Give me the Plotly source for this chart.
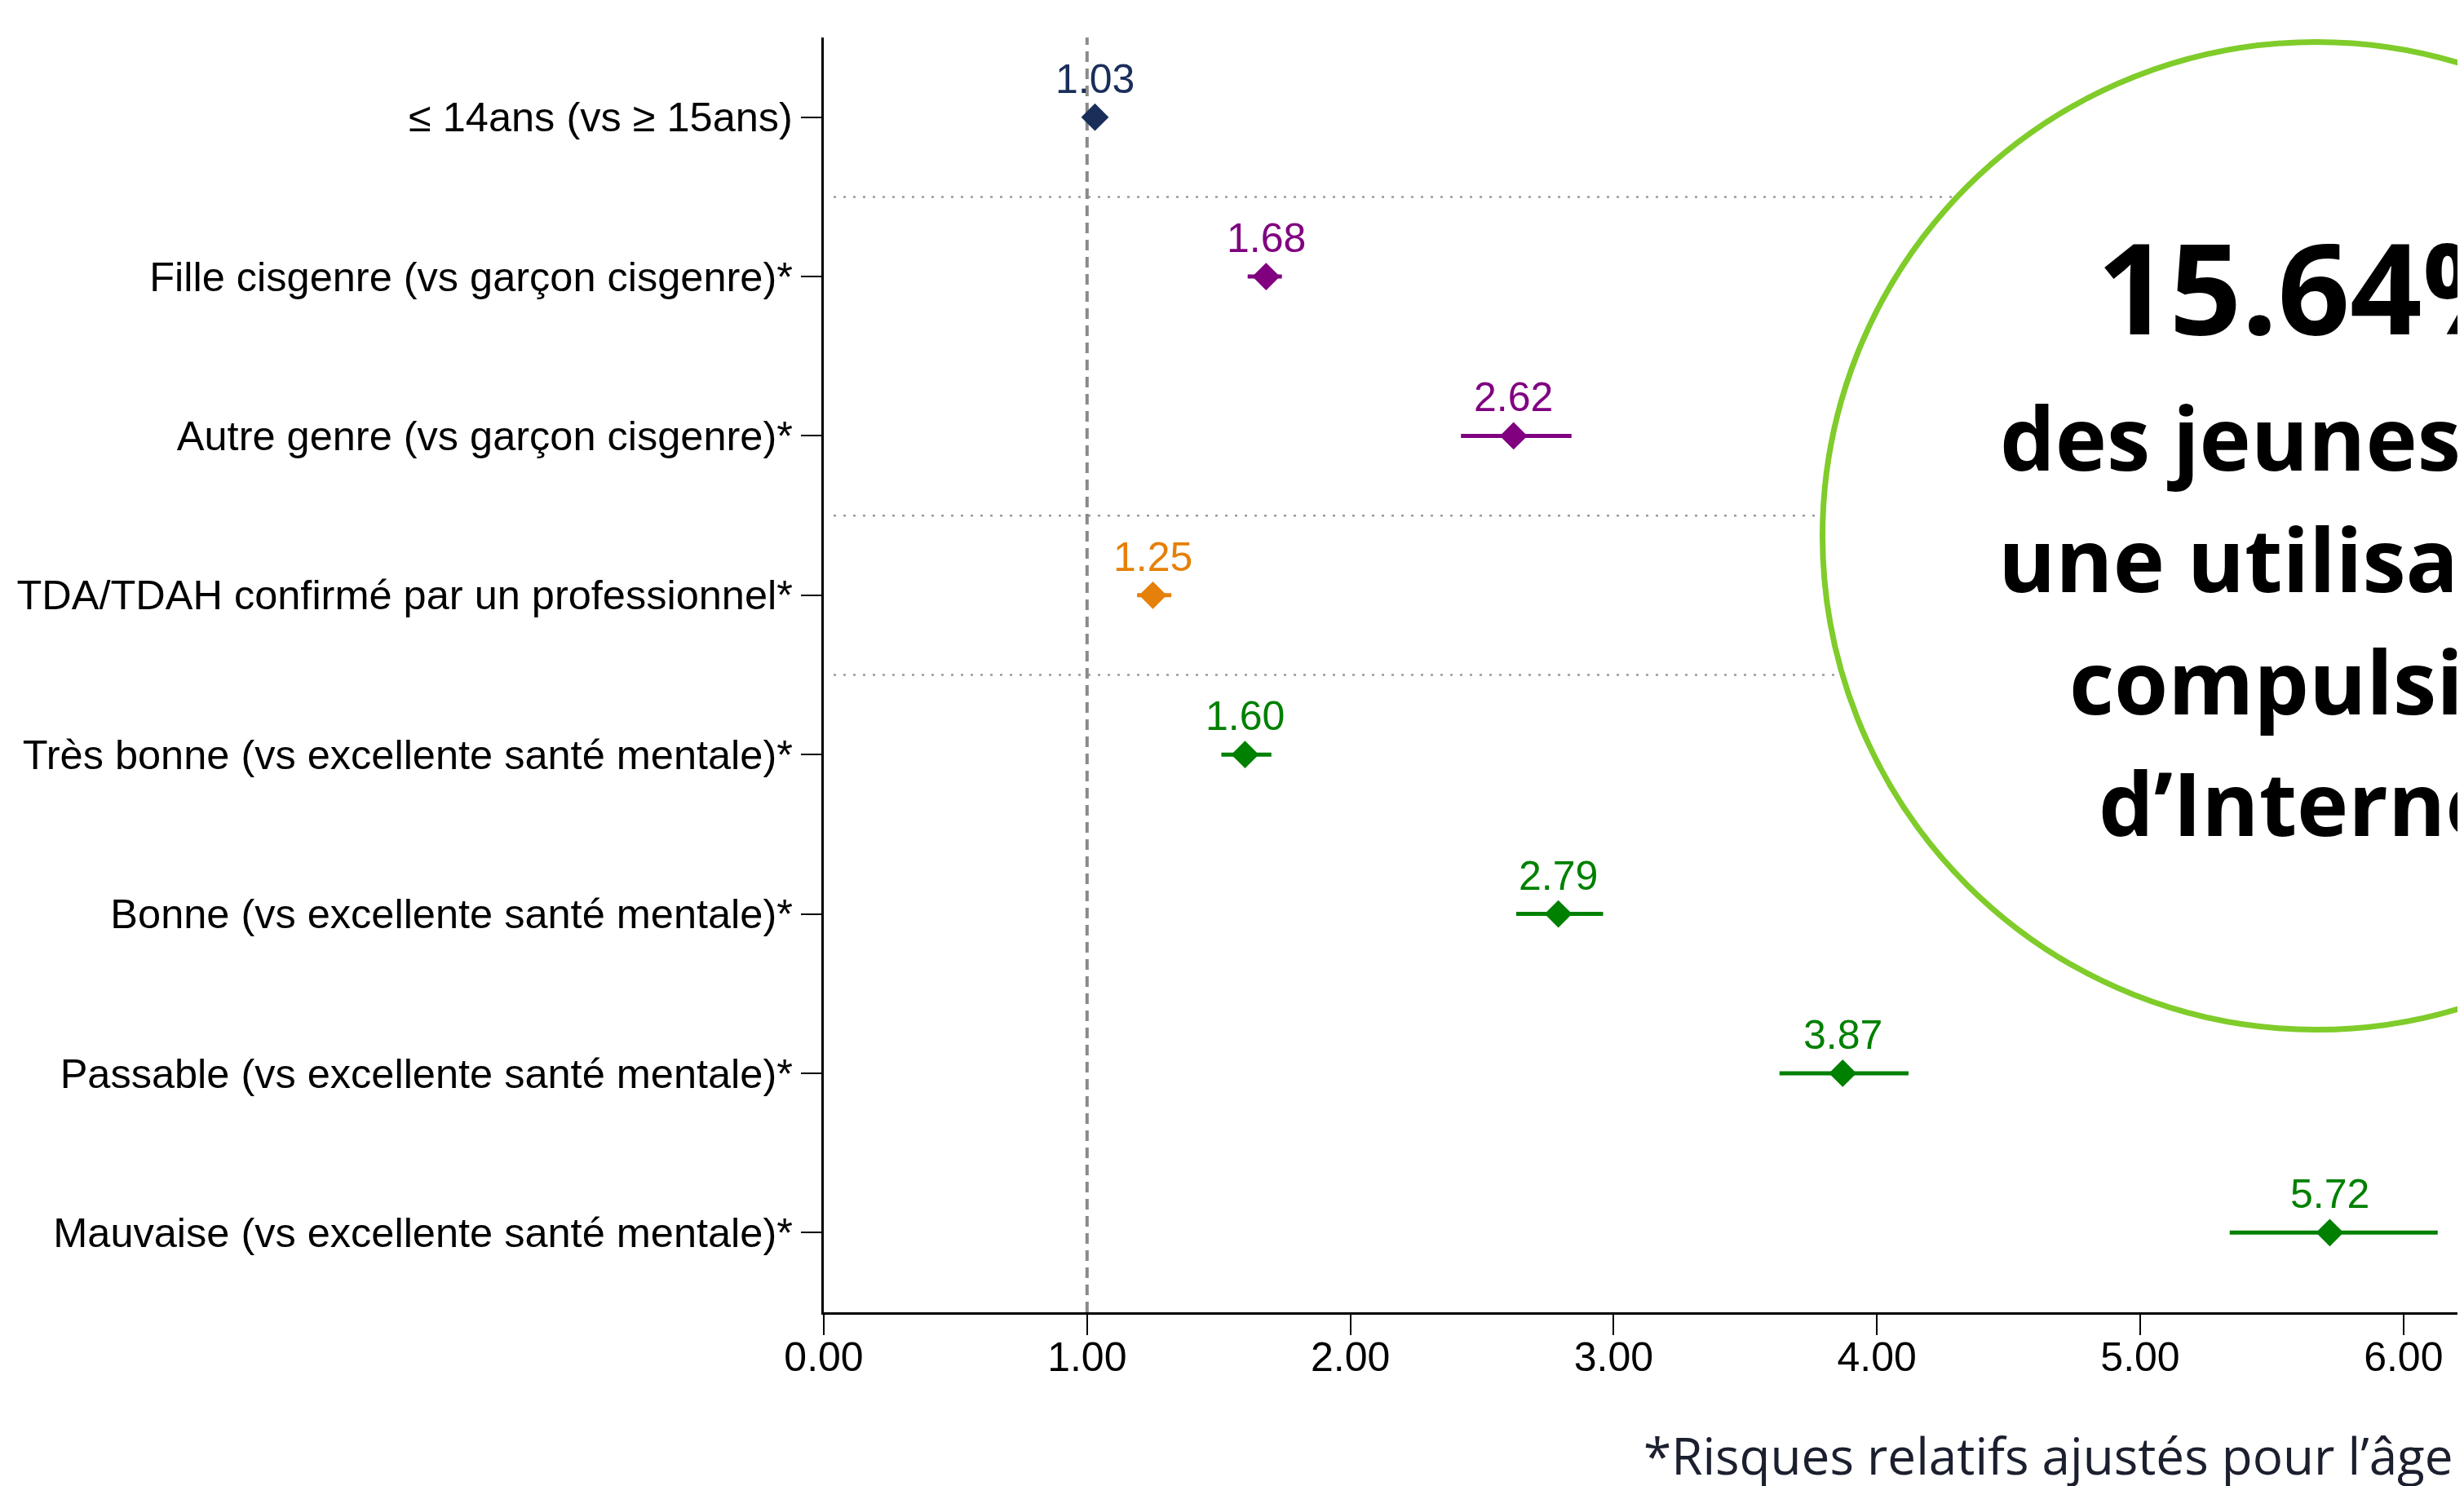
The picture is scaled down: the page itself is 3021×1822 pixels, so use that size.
import plotly.graph_objects as go

# ---------------- data ----------------
labels = [
    "≤ 14ans (vs ≥ 15ans)",
    "Fille cisgenre (vs garçon cisgenre)*",
    "Autre genre (vs garçon cisgenre)*",
    "TDA/TDAH confirmé par un professionnel*",
    "Très bonne (vs excellente santé mentale)*",
    "Bonne (vs excellente santé mentale)*",
    "Passable (vs excellente santé mentale)*",
    "Mauvaise (vs excellente santé mentale)*",
]
rr = [1.03, 1.68, 2.62, 1.25, 1.60, 2.79, 3.87, 5.72]
ci_low = [1.00, 1.61, 2.42, 1.19, 1.51, 2.63, 3.63, 5.34]
ci_high = [1.06, 1.74, 2.84, 1.32, 1.70, 2.96, 4.12, 6.13]
colors = ["#1a2e5a", "#800080", "#800080", "#e5800a",
          "#008000", "#008000", "#008000", "#008000"]
x_ticks = [0, 1, 2, 3, 4, 5, 6]
x_ticktext = ["0.00", "1.00", "2.00", "3.00", "4.00", "5.00", "6.00"]
separators = [1.5, 3.5, 4.5]
ref_value = 1.0

callout_big = "15.64%"
callout_lines = ["des jeunes ont", "une utilisation", "compulsive", "d’Internet"]
footnote = "*Risques relatifs ajustés pour l’âge"

# ---------------- layout geometry ----------------
W, H = 3021, 1822
OFF = 8  # page body margin
ML, MR, MT = 1010 - OFF, 0, 46 - OFF
MB = H - (1609 - OFF)
PW, PH = W - ML - MR, H - MT - MB
PX_PER_UNIT = 322.8
x_max = PW / PX_PER_UNIT


def px(xs):
    """screen x -> paper x"""
    return (xs - OFF - ML) / PW


def py(ys):
    """screen y -> paper y"""
    return (H - MB - (ys - OFF)) / PH


FONT = "Liberation Sans, Arial, Helvetica, sans-serif"
OPEN = "Open Sans, Noto Sans, sans-serif"

fig = go.Figure()
rows = list(range(1, len(labels) + 1))
for i, (lab, v, lo, hi, c) in enumerate(zip(labels, rr, ci_low, ci_high, colors)):
    fig.add_trace(go.Scatter(
        x=[v], y=[rows[i]], mode="markers",
        marker=dict(symbol="diamond", size=26, color=c, line=dict(width=0)),
        error_x=dict(type="data", symmetric=False, array=[hi - v],
                     arrayminus=[v - lo], color=c, thickness=5, width=0),
        showlegend=False, hoverinfo="skip",
    ))
    fig.add_annotation(
        x=v, y=rows[i], xref="x", yref="y", text=f"{v:.2f}",
        showarrow=False, yanchor="bottom", yshift=17,
        font=dict(family=FONT, size=50, color=c),
    )

shapes = []
for s in separators:
    shapes.append(dict(type="line", xref="paper", yref="y",
                       x0=px(1022), x1=1, y0=s, y1=s, layer="below",
                       line=dict(color="#9a9a9a", width=2.5, dash="3px,9px")))
shapes.append(dict(type="line", xref="x", yref="paper",
                   x0=ref_value, x1=ref_value, y0=0, y1=1, layer="below",
                   line=dict(color="#8a8a8a", width=4, dash="13px,8px")))
# callout circle
cx, cy, r = 2840, 657, 605.5
shapes.append(dict(type="circle", xref="paper", yref="paper",
                   x0=px(cx - r), x1=px(cx + r), y0=py(cy + r), y1=py(cy - r),
                   layer="above", fillcolor="white",
                   line=dict(color="#7fcc2a", width=7)))

fig.add_annotation(x=px(cx), y=py(350), xref="paper", yref="paper",
                   text=f"<b>{callout_big}</b>", showarrow=False,
                   xanchor="center", yanchor="middle",
                   font=dict(family=OPEN, size=155, color="black"))
for j, line in enumerate(callout_lines):
    fig.add_annotation(x=px(cx), y=py(535 + 149.5 * j), xref="paper", yref="paper",
                       text=f"<b>{line}</b>", showarrow=False,
                       xanchor="center", yanchor="middle",
                       font=dict(family=OPEN, size=107, color="black"))

fig.add_annotation(x=px(3010), y=py(1784), xref="paper", yref="paper",
                   text=footnote, showarrow=False,
                   xanchor="right", yanchor="middle",
                   font=dict(family=OPEN, size=62, color="#1b1f2e"))

fig.update_layout(
    width=W, height=H,
    margin=dict(l=ML, r=MR, t=MT, b=MB, pad=0),
    paper_bgcolor="white", plot_bgcolor="white",
    shapes=shapes,
    font=dict(family=FONT, size=50, color="black"),
)
fig.update_xaxes(
    range=[0, x_max], tickvals=x_ticks, ticktext=x_ticktext,
    showgrid=False, zeroline=False, showline=True, linecolor="black",
    linewidth=3, ticks="outside", ticklen=25, tickwidth=2, tickcolor="black",
    tickfont=dict(family=FONT, size=50, color="black"), ticklabelstandoff=-16,
)
fig.update_yaxes(
    range=[len(labels) + 0.5, 0.5], tickvals=rows, ticktext=labels,
    showgrid=False, zeroline=False, showline=True, linecolor="black",
    linewidth=3, ticks="outside", ticklen=25, tickwidth=2, tickcolor="black",
    tickfont=dict(family=FONT, size=50.5, color="black"), ticklabelstandoff=0,
)

fig.write_html("out.html")
